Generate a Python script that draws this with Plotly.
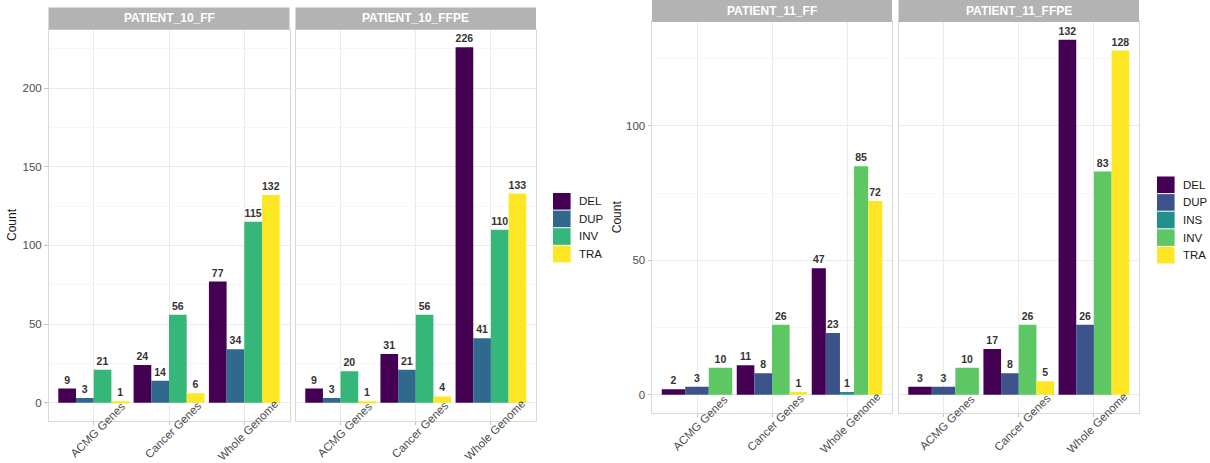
import plotly.graph_objects as go

# ---- data -------------------------------------------------------------
CATEGORIES = ["ACMG Genes", "Cancer Genes", "Whole Genome"]

TYPES_10 = ["DEL", "DUP", "INV", "TRA"]
COLORS_10 = ["#440154", "#31688E", "#35B779", "#FDE725"]

TYPES_11 = ["DEL", "DUP", "INS", "INV", "TRA"]
COLORS_11 = ["#440154", "#3B528B", "#21908C", "#5DC863", "#FDE725"]

# rows follow the type order, columns follow CATEGORIES; None = no calls of that type
P10_FF = [[9, 24, 77], [3, 14, 34], [21, 56, 115], [1, 6, 132]]
P10_FFPE = [[9, 31, 226], [3, 21, 41], [20, 56, 110], [1, 4, 133]]
P11_FF = [[2, 11, 47], [3, 8, 23], [None, None, 1], [10, 26, 85], [None, 1, 72]]
P11_FFPE = [[3, 17, 132], [3, 8, 26], [None, None, None], [10, 26, 83], [None, 5, 128]]

# ---- layout constants (pixels) ----------------------------------------
FIG_W, FIG_H = 1210, 463
FONT = "Liberation Sans, Arial, sans-serif"
GROUP_W = 0.94          # width of a dodged group in category units
STRIP_H = 22
TICK_GREY = "#4D4D4D"

GROUPS = [
    dict(types=TYPES_10, colors=COLORS_10, top=29.5, bottom=420.5,
         panels=[("PATIENT_10_FF", P10_FF, 48.5, 289.5),
                 ("PATIENT_10_FFPE", P10_FFPE, 295.5, 536.0)],
         title_x=12, label_y=430, label_shift=4,
         legend_x=553, legend_y=192.5, key=17.6),
    dict(types=TYPES_11, colors=COLORS_11, top=22.0, bottom=412.5,
         panels=[("PATIENT_11_FF", P11_FF, 652.0, 892.0),
                 ("PATIENT_11_FFPE", P11_FFPE, 898.5, 1139.0)],
         title_x=617, label_y=422.5, label_shift=3,
         legend_x=1157, legend_y=176, key=17.6),
]


def px(x):
    return x / FIG_W


def py(y):
    return 1 - y / FIG_H


fig = go.Figure()
shapes, annotations = [], []
axis_no = 0

for g in GROUPS:
    types, colors = g["types"], g["colors"]
    ymax = max(v for _, d, _, _ in g["panels"] for row in d for v in row if v is not None)
    pad = 0.05 * ymax
    yrange = [-pad, ymax + pad]

    for p_i, (name, data, x0, x1) in enumerate(g["panels"]):
        axis_no += 1
        xa = "x" if axis_no == 1 else f"x{axis_no}"
        ya = "y" if axis_no == 1 else f"y{axis_no}"
        xkey = "xaxis" if axis_no == 1 else f"xaxis{axis_no}"
        ykey = "yaxis" if axis_no == 1 else f"yaxis{axis_no}"

        # bars: dodged within each category over the types present there
        for t_i, t in enumerate(types):
            xs, ys, ws, offs = [], [], [], []
            for c_i, cat in enumerate(CATEGORIES):
                val = data[t_i][c_i]
                if val is None:
                    continue
                present = [k for k in range(len(types)) if data[k][c_i] is not None]
                w = GROUP_W / len(present)
                xs.append(cat)
                ys.append(val)
                ws.append(w)
                offs.append(-GROUP_W / 2 + present.index(t_i) * w)
            if not xs:
                continue
            fig.add_trace(go.Bar(
                x=xs, y=ys, width=ws, offset=offs, name=t,
                marker=dict(color=colors[t_i], line=dict(width=0)),
                texttemplate="%{y}", textposition="outside",
                textfont=dict(family=FONT, size=10.5, color="#333333", weight="bold"),
                constraintext="none", cliponaxis=False, showlegend=False,
                xaxis=xa, yaxis=ya,
            ))

        first = p_i == 0
        fig.layout[xkey] = dict(
            domain=[px(x0), px(x1)], anchor=ya, type="category",
            categoryorder="array", categoryarray=CATEGORIES,
            range=[-0.6, 2.6], color=TICK_GREY,
            showgrid=True, gridcolor="#EBEBEB", gridwidth=1,
            showticklabels=False, ticks="outside", ticklen=3, tickcolor="#C4C4C4",
            showline=True, mirror=True, linecolor="#D9D9D9", linewidth=1,
            zeroline=False, fixedrange=True,
        )
        fig.layout[ykey] = dict(
            domain=[py(g["bottom"]), py(g["top"])], anchor=xa,
            range=yrange, dtick=50, tick0=0, color=TICK_GREY,
            showgrid=True, gridcolor="#EBEBEB", gridwidth=1,
            minor=dict(dtick=25, tick0=0, showgrid=True, gridcolor="#F6F6F6", gridwidth=1),
            showticklabels=first, ticks="outside" if first else "",
            ticklen=3.5, tickcolor="#C4C4C4",
            tickfont=dict(family=FONT, size=11.5, color=TICK_GREY),
            showline=True, mirror=True, linecolor="#D9D9D9", linewidth=1,
            zeroline=False, fixedrange=True,
        )

        # facet strip
        shapes.append(dict(type="rect", xref="paper", yref="paper",
                           x0=px(x0), x1=px(x1),
                           y0=py(g["top"]), y1=py(g["top"] - STRIP_H),
                           fillcolor="#B3B3B3", line=dict(width=0), layer="above"))
        annotations.append(dict(text=f"<b>{name}</b>", xref="paper", yref="paper",
                                x=px((x0 + x1) / 2), y=py(g["top"] - STRIP_H / 2),
                                xanchor="center", yanchor="middle", showarrow=False,
                                font=dict(family=FONT, size=12, color="white")))

        # rotated category labels
        for cat in CATEGORIES:
            annotations.append(dict(text=cat, xref=xa, yref="paper", x=cat,
                                    y=py(g["label_y"]), xshift=g["label_shift"],
                                    textangle=-45, xanchor="center", yanchor="middle",
                                    showarrow=False,
                                    font=dict(family=FONT, size=11.5, color=TICK_GREY)))

    # y axis title
    annotations.append(dict(text="Count", xref="paper", yref="paper",
                            x=px(g["title_x"]), y=py((g["top"] + g["bottom"]) / 2),
                            textangle=-90, xanchor="center", yanchor="middle",
                            showarrow=False,
                            font=dict(family=FONT, size=12, color="#1A1A1A")))

    # legend keys
    k = g["key"]
    for t_i, t in enumerate(types):
        top = g["legend_y"] + t_i * k
        shapes.append(dict(type="rect", xref="paper", yref="paper",
                           x0=px(g["legend_x"]), x1=px(g["legend_x"] + k),
                           y0=py(top + k - 0.5), y1=py(top + 0.5),
                           fillcolor=g["colors"][t_i], line=dict(width=0)))
        annotations.append(dict(text=t, xref="paper", yref="paper",
                                x=px(g["legend_x"] + k + 6), y=py(top + k / 2),
                                xanchor="left", yanchor="middle", showarrow=False,
                                font=dict(family=FONT, size=11.5, color="#1A1A1A")))

fig.update_layout(
    template="none",
    width=FIG_W, height=FIG_H, autosize=False,
    margin=dict(l=0, r=0, t=0, b=0),
    paper_bgcolor="white", plot_bgcolor="white",
    barmode="overlay", showlegend=False,
    shapes=shapes, annotations=annotations,
    font=dict(family=FONT, color=TICK_GREY),
)

fig.write_html("out.html")
